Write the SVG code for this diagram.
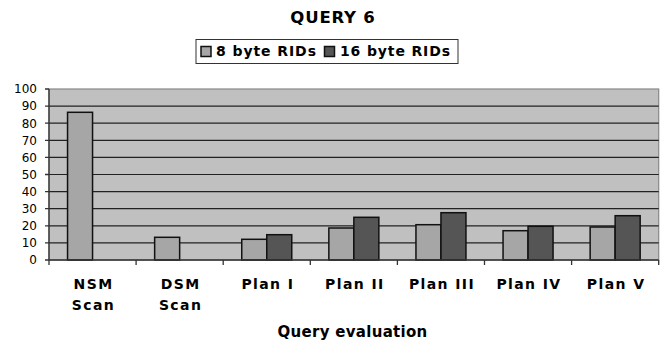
<svg xmlns="http://www.w3.org/2000/svg" width="666" height="346" viewBox="0 0 666 346">
<style>
.t{font-family:"DejaVu Sans",Verdana,sans-serif;fill:#000}
.b{font-weight:bold}
.yl{font-size:12px;text-anchor:end}
.cl{font-size:14px;font-weight:bold;text-anchor:middle;letter-spacing:1.4px}
.grid{stroke:#222;stroke-width:1.2}
.s8{fill:#a6a6a6;stroke:#111;stroke-width:1.5}
.s16{fill:#555;stroke:#111;stroke-width:1.5}
.ax{stroke:#333;stroke-width:1.3;fill:none}
</style>
<rect width="666" height="346" fill="#fff"/>
<text class="t b" x="333" y="23.3" font-size="16.5" text-anchor="middle" letter-spacing="0.8">QUERY 6</text>
<g id="legend">
<rect x="196" y="39.5" width="262" height="24" fill="#fff" stroke="#333" stroke-width="1"/>
<rect x="201" y="46.5" width="10" height="10" class="s8" stroke-width="1"/>
<text class="t b" x="216" y="56.3" font-size="14" textLength="100" lengthAdjust="spacing">8 byte RIDs</text>
<rect x="324.5" y="46.5" width="10" height="10" class="s16" stroke-width="1"/>
<text class="t b" x="340" y="56.3" font-size="14" textLength="110" lengthAdjust="spacing">16 byte RIDs</text>
</g>
<g id="plot">
<rect x="49" y="89" width="609.7" height="171" fill="#c0c0c0" stroke="#888" stroke-width="1.2"/>
<g class="grid">
<line x1="49" y1="242.9" x2="658.7" y2="242.9"/>
<line x1="49" y1="225.8" x2="658.7" y2="225.8"/>
<line x1="49" y1="208.7" x2="658.7" y2="208.7"/>
<line x1="49" y1="191.6" x2="658.7" y2="191.6"/>
<line x1="49" y1="174.5" x2="658.7" y2="174.5"/>
<line x1="49" y1="157.4" x2="658.7" y2="157.4"/>
<line x1="49" y1="140.3" x2="658.7" y2="140.3"/>
<line x1="49" y1="123.2" x2="658.7" y2="123.2"/>
<line x1="49" y1="106.1" x2="658.7" y2="106.1"/>
</g>
</g>
<g id="bars">
<rect id="nsm8" class="s8" x="67.55" y="112.3" width="25" height="147.7"/>
<rect id="dsm8" class="s8" x="154.65" y="237.3" width="25" height="22.7"/>
<rect id="p1-8" class="s8" x="241.75" y="239.3" width="25" height="20.7"/>
<rect id="p1-16" class="s16" x="266.75" y="234.7" width="25" height="25.3"/>
<rect id="p2-8" class="s8" x="328.85" y="228" width="25" height="32"/>
<rect id="p2-16" class="s16" x="353.85" y="217.3" width="25" height="42.7"/>
<rect id="p3-8" class="s8" x="415.95" y="224.7" width="25" height="35.3"/>
<rect id="p3-16" class="s16" x="440.95" y="212.7" width="25" height="47.3"/>
<rect id="p4-8" class="s8" x="503.05" y="230.7" width="25" height="29.3"/>
<rect id="p4-16" class="s16" x="528.05" y="226.3" width="25" height="33.7"/>
<rect id="p5-8" class="s8" x="590.15" y="227" width="25" height="33"/>
<rect id="p5-16" class="s16" x="615.15" y="215.7" width="25" height="44.3"/>
</g>
<g id="axes">
<path class="ax" d="M49,89V260M49,260H658.7"/>
<path class="ax" d="M45,260H49M45,242.9H49M45,225.8H49M45,208.7H49M45,191.6H49M45,174.5H49M45,157.4H49M45,140.3H49M45,123.2H49M45,106.1H49M45,89H49"/>
<path class="ax" d="M49,260V265M136.1,260V265M223.2,260V265M310.3,260V265M397.4,260V265M484.5,260V265M571.6,260V265M658.7,260V265"/>
</g>
<g id="ylabels" class="t yl">
<text x="37" y="264.3">0</text>
<text x="37" y="247.2">10</text>
<text x="37" y="230.1">20</text>
<text x="37" y="213">30</text>
<text x="37" y="195.9">40</text>
<text x="37" y="178.8">50</text>
<text x="37" y="161.7">60</text>
<text x="37" y="144.6">70</text>
<text x="37" y="127.5">80</text>
<text x="37" y="110.4">90</text>
<text x="37" y="93.3">100</text>
</g>
<g id="xlabels" class="t cl">
<text x="93.5" y="289">NSM</text>
<text x="93.5" y="310">Scan</text>
<text x="180.6" y="289">DSM</text>
<text x="180.6" y="310">Scan</text>
<text x="267.9" y="289.3">Plan I</text>
<text x="354.9" y="289.3">Plan II</text>
<text x="442" y="289.3">Plan III</text>
<text x="529" y="289.3">Plan IV</text>
<text x="616.1" y="289.3">Plan V</text>
</g>
<text class="t b" x="352.5" y="336.5" font-size="15" text-anchor="middle" letter-spacing="0.3">Query evaluation</text>
</svg>
